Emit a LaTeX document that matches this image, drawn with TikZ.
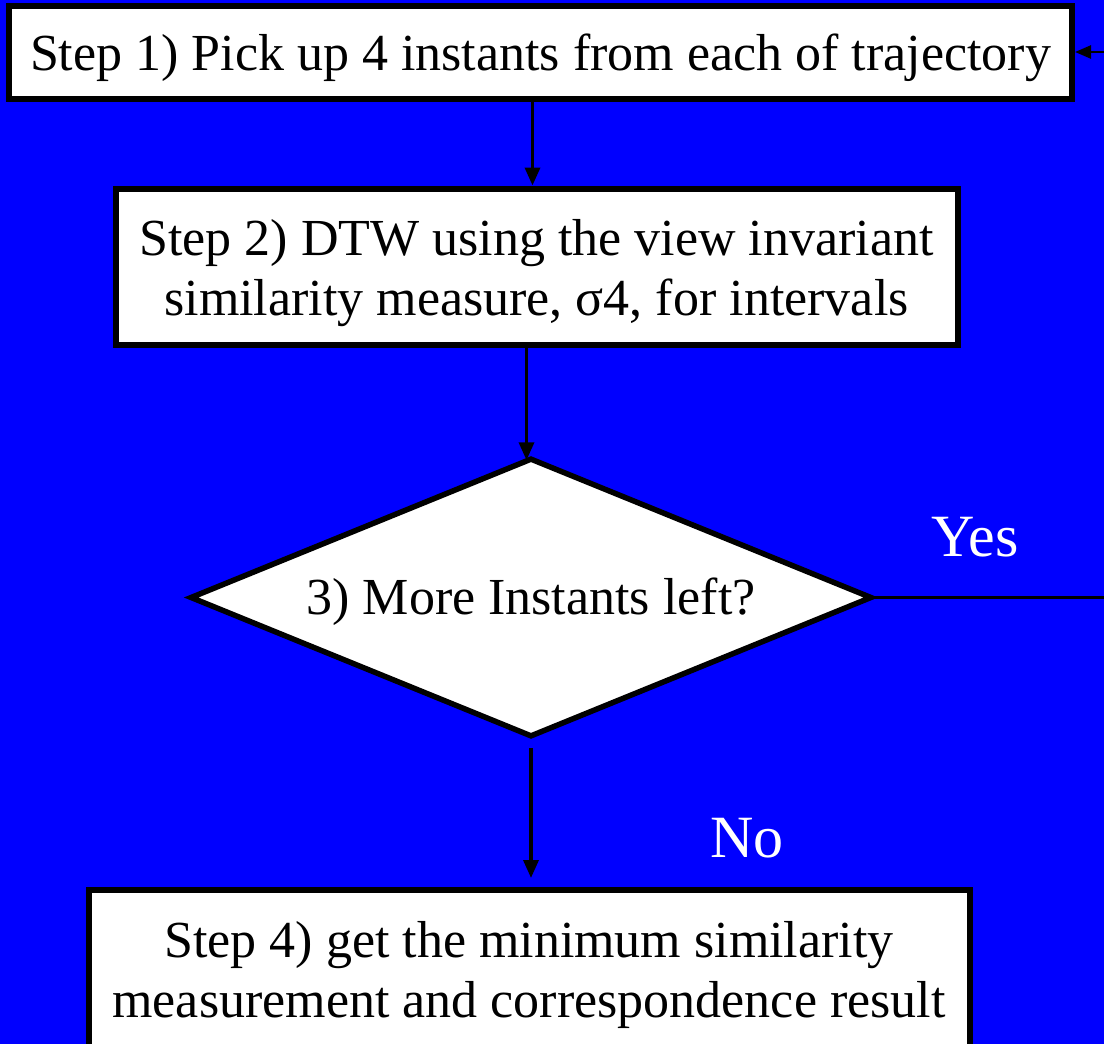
\documentclass[tikz,border=0pt]{standalone}
\usepackage{fontspec}
\setmainfont{Liberation Serif}
\usetikzlibrary{shapes.geometric,arrows.meta}
\definecolor{bgblue}{RGB}{0,0,255}
\newcommand{\lowered}[2]{\raisebox{-#1}[\height][\depth]{\begin{tabular}{@{}c@{}}#2\end{tabular}}}
\begin{document}
\begin{tikzpicture}[x=1pt,y=-1pt,
  box/.style={draw=black,line width=6pt,fill=white,inner sep=0pt,align=center,
    font=\fontsize{52}{60}\selectfont},
  conn/.style={line width=3.5pt,-{Triangle[length=18pt,width=15pt]}},
  lbl/.style={text=white,font=\fontsize{60}{66}\selectfont}]
\useasboundingbox (0,0) rectangle (1104,1044);
\fill[bgblue] (0,0) rectangle (1104,1044);
\begin{scope}
\clip (0,0) rectangle (1104,1044);
\node[box,minimum width=1063pt,minimum height=93pt] (s1) at (540.5,52) {\lowered{6pt}{Step 1) Pick up 4 instants from each of trajectory}};
\node[box,minimum width=842pt,minimum height=156pt] (s2) at (536.5,266.5) {\lowered{7pt}{Step 2) DTW using the view invariant\\similarity measure, σ4, for intervals}};
\node[draw=black,line width=5.5pt,fill=white,diamond,aspect=2.444,inner sep=0pt,
  minimum width=682pt,minimum height=279pt,font=\fontsize{52}{60}\selectfont] (d3) at (531,597.5) {\lowered{5pt}{3) More Instants left?}};
\node[box,minimum width=881pt,minimum height=170pt] (s4) at (529,975) {Step 4) get the minimum similarity\\measurement and correspondence result};
\coordinate (r) at (1104,597.5);
\coordinate (rt) at (1104,52);
\draw[conn] ([xshift=-8pt]s1.south) -- ([xshift=-8pt]s1.south |- s2.north);
\draw[conn] ([xshift=-10pt]s2.south) -- ([xshift=-10pt,yshift=-5pt]s2.south |- d3.north);
\draw[conn] ([yshift=-8pt]d3.south) -- ([yshift=9pt]d3.south |- s4.north);
\draw[line width=2.5pt] (d3.east) -- (r);
\draw[line width=2.5pt,-{Triangle[length=16pt,width=13pt]}] (rt) -- (s1.east);
\end{scope}
\node[lbl] (yes) at (975,537) {Yes};
\node[lbl] (no) at (747,838) {No};
\end{tikzpicture}
\end{document}
